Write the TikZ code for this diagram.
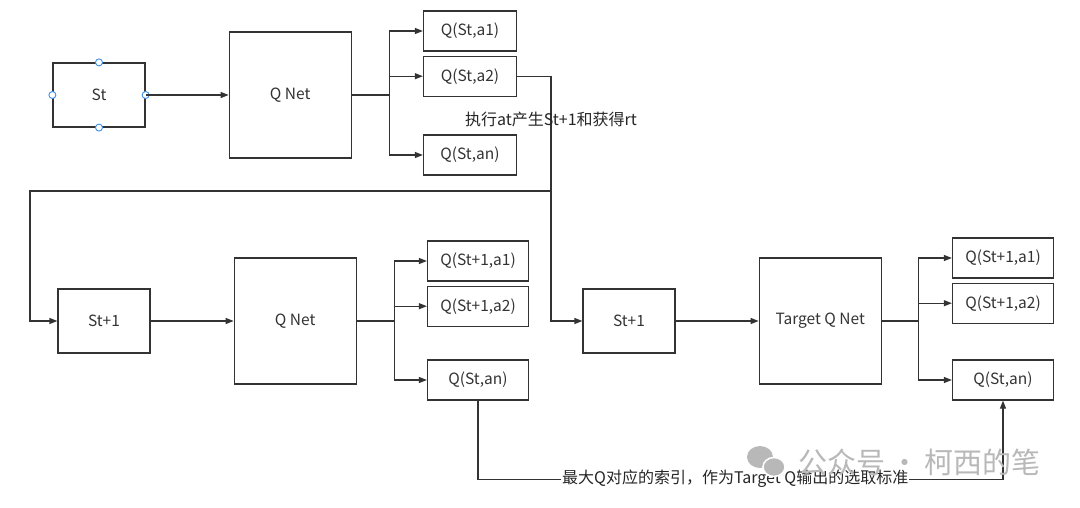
\documentclass[tikz,border=0pt]{standalone}
\usepackage{fontspec}
\setmainfont{Noto Sans CJK SC}
\usepackage{tikz}
\usetikzlibrary{arrows.meta, positioning, calc}
\usepackage{xcolor}
\definecolor{linec}{HTML}{333333}
\definecolor{handle}{HTML}{3D8FE8}

\begin{document}
\begin{tikzpicture}[
    x=1pt, y=1pt,
    node distance=4pt and 83pt,
    box/.style={rectangle, draw=linec, line width=1.2pt, inner sep=0pt, font=\fontsize{15.5}{18}\selectfont, text=black!80},
    sbox/.style={box, minimum width=92pt, minimum height=64pt},
    netbox/.style={box, minimum width=122pt, minimum height=126pt},
    qbox/.style={box, minimum width=93pt, minimum height=40pt},
    wbox/.style={box, minimum width=101pt, minimum height=40pt},
    line/.style={draw=linec, line width=1.2pt},
    arrow/.style={line, -{Triangle[length=8pt, width=6pt]}},
    lbl/.style={font=\fontsize{16}{18}\selectfont, text=black!85, inner sep=1pt}
]
\useasboundingbox (0,0) rectangle (1080,-508);

% top row
\node[sbox] (st) at (99,-95) {St};
\node[netbox, right=of st] (qnet) {Q Net};
\node[qbox] (qa1) at (470,-31) {Q(St,a1)};
\node[qbox, below=of qa1] (qa2) {Q(St,a2)};
\node[qbox] (qan) at (470,-155) {Q(St,an)};
\foreach \a in {north, south, east, west}
  \draw[handle, fill=white, line width=0.9pt] (st.\a) circle (3.5pt);

\draw[line] (qnet.east) -- ++(38,0) coordinate (br1);
\draw[arrow] (br1) |- (qa1);
\draw[arrow] (br1) |- (qa2);
\draw[arrow] (br1) |- (qan);

% bottom left row
\node[sbox] (sn) at (104,-321) {St+1};
\node[netbox, right=of sn] (qnet2) {Q Net};
\node[wbox] (qb1) at (478,-261) {Q(St+1,a1)};
\node[wbox, below=of qb1] (qb2) {Q(St+1,a2)};
\node[wbox] (qbn) at (478,-380) {Q(St,an)};

\draw[line] (qnet2.east) -- ++(38,0) coordinate (br2);
\draw[arrow] (br2) |- (qb1);
\draw[arrow] (br2) |- (qb2);
\draw[arrow] (br2) |- (qbn);

% bottom right row
\node[sbox] (sn2) at (629,-321) {St+1};
\node[netbox, right=83pt of sn2] (tnet) {Target Q Net};
\node[wbox] (qc1) at (1003,-258) {Q(St+1,a1)};
\node[wbox, below=of qc1] (qc2) {Q(St+1,a2)};
\node[wbox] (qcn) at (1003,-380) {Q(St,an)};

\draw[line] (tnet.east) -- ++(37,0) coordinate (br3);
\draw[arrow] (br3) |- (qc1);
\draw[arrow] (br3) |- (qc2);
\draw[arrow] (br3) |- (qcn);

% transitions
\coordinate (drop) at (551,-191);
\coordinate (turn) at (30,-191);
\draw[line] (qa2.east) -| node[lbl, pos=0.69] {执行at产生St+1和获得rt} (drop);
\draw[arrow] (drop) -- (turn) |- (sn);
\draw[arrow] (drop) |- (sn2);
\draw[arrow] (sn) -- (qnet2);
\draw[arrow] (st) -- (qnet);
\draw[arrow] (sn2) -- (tnet);
\draw[arrow] (qbn.south) -- ++(0,-79) -| node[lbl, fill=white, pos=0.245, yshift=1pt] {最大Q对应的索引，作为Target Q输出的选取标准} (qcn.south);

% watermark
\fill[black!28] (760,-457) ellipse (13pt and 11pt);
\fill[black!28, draw=white, line width=1.5pt] (774,-467) ellipse (11pt and 9.5pt);
\node[font=\fontsize{29}{32}\selectfont, text=black!28, anchor=west] (wm) at (795,-462) {公众号\,·\,柯西的笔};
\end{tikzpicture}
\end{document}
